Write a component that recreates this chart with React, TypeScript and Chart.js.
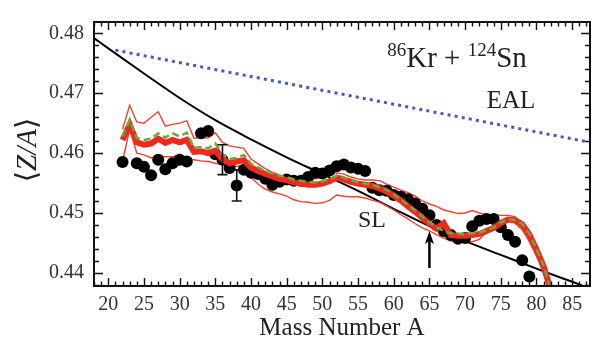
import { useEffect, useRef } from "react";
import { Chart, registerables } from "chart.js";
Chart.register(...registerables);

const SERIF = '"Liberation Serif", "DejaVu Serif", serif';

// ---- axis ranges & tick labels ----
const xMin = 18;
const xMax = 87.5;
const yMin = 0.4378;
const yMax = 0.4819;
const xTickLabels = [20, 25, 30, 35, 40, 45, 50, 55, 60, 65, 70, 75, 80, 85];
const yTickLabels = [0.44, 0.45, 0.46, 0.47, 0.48];
const xMinorStep = 1;
const yMinorStep = 0.002;

// ---- experimental data (black dots) ----
const dotA = [22, 24, 25, 26, 27, 28, 29, 30, 31, 33, 34, 35, 36, 37, 38, 39, 40, 41, 42, 43, 44, 45, 46, 47, 48, 49, 50, 51, 52, 53, 54, 55, 56, 57, 58, 59, 60, 61, 62, 63, 64, 65, 66, 67, 68, 69, 70, 71, 72, 73, 74, 75, 76, 77, 78, 79];
const dotZA = [0.4585, 0.4583, 0.4577, 0.4563, 0.4589, 0.4573, 0.4583, 0.4589, 0.4586, 0.4633, 0.4637, 0.4598, 0.4589, 0.4575, 0.4546, 0.4572, 0.4567, 0.4565, 0.4557, 0.4547, 0.4552, 0.4556, 0.4554, 0.4554, 0.456, 0.4567, 0.4566, 0.4571, 0.4578, 0.4581, 0.4576, 0.4574, 0.457, 0.4542, 0.4538, 0.4537, 0.453, 0.4527, 0.4523, 0.4516, 0.4507, 0.4496, 0.448, 0.447, 0.4463, 0.4457, 0.4458, 0.4478, 0.4487, 0.449, 0.449, 0.4476, 0.4463, 0.4452, 0.4421, 0.4394];
const dotErr = [0, 0, 0, 0, 0, 0, 0, 0, 0, 0, 0, 0, 0.0025, 0, 0.0026, 0, 0, 0, 0, 0, 0, 0, 0, 0, 0, 0, 0, 0, 0, 0, 0, 0, 0, 0, 0, 0, 0, 0, 0, 0, 0, 0, 0, 0, 0, 0, 0, 0, 0, 0, 0, 0, 0, 0, 0, 0];

// ---- model curves ----
const modelA = [22, 23, 24, 25, 26, 27, 28, 29, 30, 31, 32, 33, 34, 35, 36, 37, 38, 39, 40, 41, 42, 43, 44, 45, 46, 47, 48, 49, 50, 51, 52, 53, 54, 55, 56, 57, 58, 59, 60, 61, 62, 63, 64, 65, 66, 67, 68, 69, 70, 71, 72, 73, 74, 75, 76, 77, 78, 79, 80, 81, 82];
const greenMid = [0.4628, 0.4655, 0.4625, 0.4622, 0.4624, 0.4633, 0.4626, 0.4633, 0.4628, 0.4634, 0.4609, 0.461, 0.4608, 0.4616, 0.4598, 0.459, 0.4592, 0.4597, 0.4582, 0.4576, 0.457, 0.4566, 0.4562, 0.456, 0.4556, 0.4554, 0.4552, 0.4551, 0.4553, 0.4556, 0.4562, 0.4559, 0.4555, 0.4551, 0.4549, 0.4547, 0.4543, 0.4539, 0.4531, 0.4523, 0.4513, 0.4504, 0.4494, 0.4484, 0.4476, 0.447, 0.4466, 0.4465, 0.4465, 0.4466, 0.4467, 0.4471, 0.4476, 0.4484, 0.449, 0.4488, 0.4482, 0.4465, 0.444, 0.4412, 0.4372];
const redMid = [0.4622, 0.4648, 0.4618, 0.4614, 0.4616, 0.4624, 0.4617, 0.4622, 0.4618, 0.4622, 0.4602, 0.4603, 0.46, 0.4604, 0.459, 0.4583, 0.4586, 0.4588, 0.4576, 0.457, 0.4565, 0.4561, 0.4557, 0.4555, 0.4551, 0.4549, 0.4547, 0.4547, 0.4549, 0.4553, 0.4559, 0.4556, 0.4552, 0.4549, 0.4547, 0.4545, 0.4541, 0.4536, 0.4529, 0.4521, 0.4511, 0.4502, 0.4492, 0.4482, 0.4474, 0.4483, 0.4463, 0.4462, 0.4462, 0.4463, 0.4465, 0.447, 0.4475, 0.4483, 0.4489, 0.4488, 0.4481, 0.4464, 0.4439, 0.4411, 0.4371];
const redUpper = [0.464, 0.468, 0.4652, 0.465, 0.466, 0.4669, 0.4645, 0.4648, 0.465, 0.4654, 0.4625, 0.4626, 0.4625, 0.4634, 0.4618, 0.4612, 0.461, 0.4608, 0.459, 0.4582, 0.4574, 0.4568, 0.4563, 0.456, 0.4556, 0.4554, 0.4555, 0.4557, 0.456, 0.4564, 0.4567, 0.4565, 0.456, 0.4557, 0.4555, 0.4555, 0.4554, 0.4548, 0.4543, 0.4538, 0.4534, 0.4528, 0.452, 0.4515, 0.4511, 0.4505, 0.4502, 0.4499, 0.45, 0.4504, 0.45, 0.4497, 0.4497, 0.4496, 0.4496, 0.4494, 0.4478, 0.4458, 0.4432, 0.44, 0.4362];
const redLower = [0.4586, 0.464, 0.46, 0.4597, 0.4592, 0.4595, 0.4594, 0.4594, 0.4596, 0.459, 0.4589, 0.4587, 0.4586, 0.4583, 0.4581, 0.4578, 0.4578, 0.4578, 0.456, 0.4548, 0.454, 0.4535, 0.4532, 0.4528, 0.4522, 0.4519, 0.4518, 0.4516, 0.4517, 0.4521, 0.453, 0.4528, 0.4527, 0.4527, 0.4525, 0.4521, 0.4518, 0.4512, 0.4505, 0.4497, 0.449, 0.4482, 0.4475, 0.447, 0.4464, 0.4458, 0.4453, 0.4452, 0.4454, 0.4452, 0.4456, 0.4468, 0.4478, 0.4486, 0.4487, 0.4483, 0.4472, 0.4452, 0.4428, 0.44, 0.4368];

// ---- SL (black) and EAL (blue dotted) ----
const slA = [18, 20, 25, 30, 35, 40, 45, 50, 55, 60, 65, 70, 75, 80, 85, 87.5];
const slZA = [0.4792, 0.4775, 0.4733, 0.4692, 0.4655, 0.4623, 0.4593, 0.4565, 0.4537, 0.4507, 0.4478, 0.4453, 0.443, 0.4407, 0.4385, 0.4374];
const ealA = [21, 87.5];
const ealZA = [0.4772, 0.4618];

// ---- arrow ----
const arrowA = 65;
const arrowFrom = 0.4408;
const arrowTo = 0.447;

const pts = (xs: number[], ys: number[]) => xs.map((x, i) => ({ x, y: ys[i] }));

const overlay = {
  id: "overlay",
  afterDatasetsDraw(chart: any) {
    const { ctx, scales } = chart;
    const xs = scales.x;
    const ys = scales.y;
    ctx.save();
    // error bars
    ctx.strokeStyle = "#111";
    ctx.lineWidth = 1.6;
    dotA.forEach((a, i) => {
      const e = dotErr[i];
      if (!e) return;
      const px = xs.getPixelForValue(a);
      const y1 = ys.getPixelForValue(dotZA[i] + e);
      const y2 = ys.getPixelForValue(dotZA[i] - e);
      ctx.beginPath();
      ctx.moveTo(px, y1);
      ctx.lineTo(px, y2);
      ctx.moveTo(px - 5, y1);
      ctx.lineTo(px + 5, y1);
      ctx.moveTo(px - 5, y2);
      ctx.lineTo(px + 5, y2);
      ctx.stroke();
    });
    // arrow
    const ax = xs.getPixelForValue(arrowA);
    const ay1 = ys.getPixelForValue(arrowFrom);
    const ay2 = ys.getPixelForValue(arrowTo);
    ctx.strokeStyle = "#000";
    ctx.fillStyle = "#000";
    ctx.lineWidth = 2.5;
    ctx.beginPath();
    ctx.moveTo(ax, ay1);
    ctx.lineTo(ax, ay2 + 8);
    ctx.stroke();
    ctx.beginPath();
    ctx.moveTo(ax, ay2);
    ctx.lineTo(ax - 4.5, ay2 + 13);
    ctx.lineTo(ax, ay2 + 10);
    ctx.lineTo(ax + 4.5, ay2 + 13);
    ctx.closePath();
    ctx.fill();
    ctx.restore();
  },
  afterDraw(chart: any) {
    const { ctx, chartArea: ca, scales } = chart;
    const xs = scales.x;
    const ys = scales.y;
    ctx.save();
    ctx.strokeStyle = "#111";
    // ticks
    ctx.lineWidth = 1.4;
    ctx.beginPath();
    for (let v = Math.ceil(xMin / xMinorStep) * xMinorStep; v <= xMax + 1e-9; v += xMinorStep) {
      const px = Math.round(xs.getPixelForValue(v)) + 0.5;
      const major = xTickLabels.some((t) => Math.abs(t - v) < 1e-6);
      const len = major ? 8 : 4.5;
      ctx.moveTo(px, ca.bottom);
      ctx.lineTo(px, ca.bottom - len);
      ctx.moveTo(px, ca.top);
      ctx.lineTo(px, ca.top + len);
    }
    for (let k = Math.ceil(yMin / yMinorStep - 1e-6); k * yMinorStep <= yMax + 1e-9; k++) {
      const v = k * yMinorStep;
      const py = Math.round(ys.getPixelForValue(v)) + 0.5;
      const major = yTickLabels.some((t) => Math.abs(t - v) < 1e-6);
      const len = major ? 9 : 5;
      ctx.moveTo(ca.left, py);
      ctx.lineTo(ca.left + len, py);
      ctx.moveTo(ca.right, py);
      ctx.lineTo(ca.right - len, py);
    }
    ctx.stroke();
    // frame
    ctx.lineWidth = 2;
    ctx.strokeRect(ca.left, ca.top, ca.right - ca.left, ca.bottom - ca.top);

    // texts
    ctx.fillStyle = "#222";
    ctx.textBaseline = "alphabetic";
    // reaction label with superscripts
    const parts: [string, number, number][] = [
      ["86", 19, -11],
      ["Kr + ", 29, 0],
      ["124", 19, -11],
      ["Sn", 29, 0],
    ];
    let total = 0;
    parts.forEach(([t, s]) => {
      ctx.font = `${s}px ${SERIF}`;
      total += ctx.measureText(t).width;
    });
    let cx = 457 - total / 2;
    parts.forEach(([t, s, dy]) => {
      ctx.font = `${s}px ${SERIF}`;
      ctx.textAlign = "left";
      ctx.fillText(t, cx, 67 + dy);
      cx += ctx.measureText(t).width;
    });
    ctx.textAlign = "center";
    ctx.font = `25px ${SERIF}`;
    ctx.fillText("EAL", 511, 108);
    ctx.font = `24px ${SERIF}`;
    ctx.fillText("SL", 372, 227);

    // x axis title
    ctx.font = `25px ${SERIF}`;
    ctx.textBaseline = "middle";
    ctx.fillText("Mass Number A", 342, 328);

    // y axis title
    ctx.translate(28, 150);
    ctx.rotate(-Math.PI / 2);
    const yparts: [string, string][] = [
      ["⟨", ""],
      ["Z/A", "italic "],
      ["⟩", ""],
    ];
    let tw = 0;
    yparts.forEach(([t, st]) => {
      ctx.font = `${st}29px ${SERIF}`;
      tw += ctx.measureText(t).width;
    });
    let tx = -tw / 2;
    ctx.textAlign = "left";
    yparts.forEach(([t, st]) => {
      ctx.font = `${st}29px ${SERIF}`;
      ctx.fillText(t, tx, 0);
      tx += ctx.measureText(t).width;
    });
    ctx.restore();
  },
};

export default function App() {
  const ref = useRef<HTMLCanvasElement | null>(null);
  useEffect(() => {
    document.body.style.margin = "0";
    const canvas = ref.current;
    if (!canvas) return;
    const thin = { borderColor: "#f2402e", borderWidth: 1.4, pointRadius: 0, fill: false, tension: 0 };
    const chart = new Chart(canvas, {
      type: "line",
      data: {
        datasets: [
          {
            label: "model (mean)",
            data: pts(modelA, greenMid),
            borderColor: "#62ad3c",
            borderWidth: 2.5,
            borderDash: [7, 4],
            pointRadius: 0,
            order: 0,
          },
          {
            label: "model",
            data: pts(modelA, redMid),
            borderColor: "#f0281e",
            borderWidth: 6,
            pointRadius: 0,
            order: 1,
          },
          { label: "upper", data: pts(modelA, redUpper), ...thin, order: 3 },
          { label: "lower", data: pts(modelA, redLower), ...thin, order: 3 },
          {
            label: "data",
            data: pts(dotA, dotZA),
            showLine: false,
            pointRadius: 6,
            pointBackgroundColor: "#000",
            pointBorderColor: "#000",
            pointBorderWidth: 0,
            order: 2,
          },
          {
            label: "SL",
            data: pts(slA, slZA),
            borderColor: "#000",
            borderWidth: 2,
            pointRadius: 0,
            cubicInterpolationMode: "monotone",
            order: 4,
          },
          {
            label: "EAL",
            data: pts(ealA, ealZA),
            borderColor: "#4657c6",
            borderWidth: 3,
            borderDash: [3, 4.2],
            pointRadius: 0,
            order: 5,
          },
        ],
      },
      options: {
        responsive: false,
        animation: false,
        events: [],
        layout: { padding: { top: 12, right: 10, left: 0, bottom: 0 } },
        plugins: { legend: { display: false }, tooltip: { enabled: false } },
        scales: {
          x: {
            type: "linear",
            min: xMin,
            max: xMax,
            grid: { display: false, drawTicks: false },
            border: { display: false },
            ticks: {
              autoSkip: false,
              maxRotation: 0,
              padding: 7,
              color: "#333",
              font: { family: SERIF, size: 20 },
              callback: (v: any) => String(v),
            },
            afterBuildTicks: (s: any) => {
              s.ticks = xTickLabels.map((v) => ({ value: v }));
            },
            afterFit: (s: any) => {
              s.height = 61;
            },
          },
          y: {
            type: "linear",
            min: yMin,
            max: yMax,
            grid: { display: false, drawTicks: false },
            border: { display: false },
            ticks: {
              autoSkip: false,
              padding: 10,
              color: "#333",
              font: { family: SERIF, size: 20 },
              callback: (v: any) => Number(v).toFixed(2),
            },
            afterBuildTicks: (s: any) => {
              s.ticks = yTickLabels.map((v) => ({ value: v }));
            },
            afterFit: (s: any) => {
              s.width = 94;
            },
          },
        },
      },
      plugins: [overlay],
    } as any);
    return () => chart.destroy();
  }, []);
  return (
    <div style={{ position: "absolute", left: 0, top: 0, width: 600, height: 347, background: "#fff" }}>
      <canvas ref={ref} width={600} height={347} />
    </div>
  );
}
